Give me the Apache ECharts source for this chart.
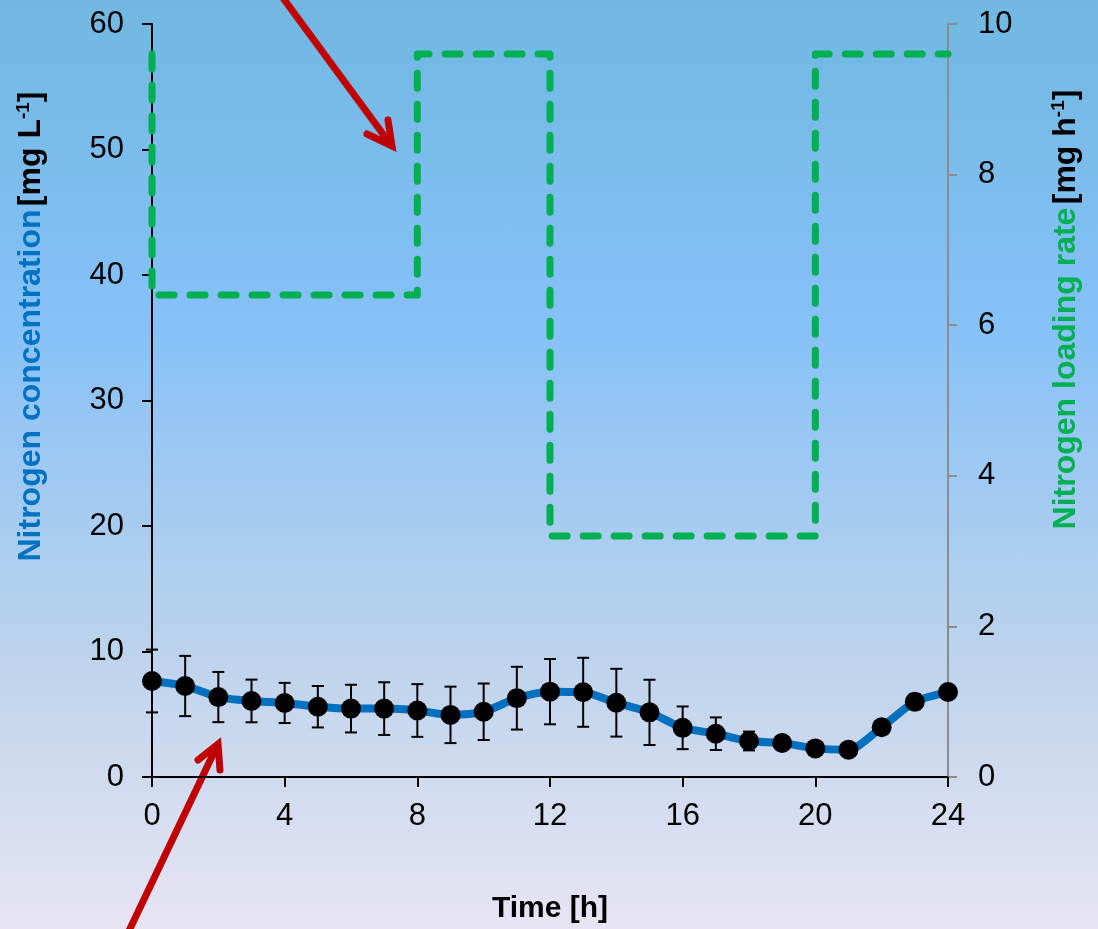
<!DOCTYPE html>
<html>
<head>
<meta charset="utf-8">
<script src="https://cdn.jsdelivr.net/npm/echarts@6/dist/echarts.min.js"></script>
<style>
  html, body { margin: 0; padding: 0; }
  #chart {
    width: 1098px;
    height: 929px;
    background: linear-gradient(to bottom, #70b8e2 0%, #86c1f8 35%, #bcd3ec 70%, #e8e4f4 100%);
  }
</style>
</head>
<body>
<div id="chart"></div>
<script>
// time in hours
const hours = [0, 1, 2, 3, 4, 5, 6, 7, 8, 9, 10, 11, 12, 13, 14, 15, 16, 17, 18, 19, 20, 21, 22, 23, 24];
// nitrogen concentration [mg/L] and its std deviation
const concentration = [7.65, 7.25, 6.37, 6.06, 5.9, 5.6, 5.45, 5.45, 5.3, 4.95, 5.2, 6.28, 6.8, 6.75, 5.92, 5.15, 3.92, 3.45, 2.87, 2.71, 2.28, 2.18, 3.96, 6.0, 6.77];
const concErr = [2.5, 2.4, 2.0, 1.7, 1.6, 1.65, 1.9, 2.1, 2.1, 2.25, 2.25, 2.5, 2.6, 2.75, 2.7, 2.6, 1.7, 1.3, 0.75, 0.5, 0.2, 0.1, 0.2, 0.6, 0.3];
// nitrogen loading rate [mg/h], stepped
const loadTimes = [0, 0, 8, 12, 20, 24];
const loadRates = [9.6, 6.4, 9.6, 3.2, 9.6, 9.6];

const xTicks = { min: 0, max: 24, interval: 4 };
const leftTicks = { min: 0, max: 60, interval: 10 };
const rightTicks = { min: 0, max: 10, interval: 2 };

const chart = echarts.init(document.getElementById('chart'));

const linePoints = hours.map((h, i) => [h, concentration[i]]);
const errPoints = hours.map((h, i) => [h, concentration[i] - concErr[i], concentration[i] + concErr[i]]);
const loadPoints = loadTimes.map((t, i) => [t, loadRates[i]]);

const font = 'Liberation Sans, Arial, sans-serif';
const titleSize = 32;
const tickSize = 31;

let options = {
  animation: false,
  textStyle: { fontFamily: font },
  grid: { left: 152, right: 150, top: 24, bottom: 152, outerBoundsMode: 'none' },
  xAxis: {
    type: 'value',
    min: xTicks.min,
    max: xTicks.max,
    interval: xTicks.interval,
    name: 'Time [h]',
    nameLocation: 'middle',
    nameGap: 117,
    nameTextStyle: { fontSize: 30, fontWeight: 'bold', color: '#000', fontFamily: font },
    axisLine: { lineStyle: { color: '#000', width: 2 } },
    axisTick: { length: 10, lineStyle: { color: '#000', width: 2 } },
    axisLabel: { fontSize: tickSize, color: '#000', margin: 24, fontFamily: font },
    splitLine: { show: false },
  },
  yAxis: [
    {
      type: 'value',
      min: leftTicks.min,
      max: leftTicks.max,
      interval: leftTicks.interval,
      position: 'left',
      name: '{b|Nitrogen concentration} {k|[mg L}{s|-1}{k|]}',
      nameLocation: 'middle',
      nameRotate: 90,
      nameGap: 104,
      nameTextStyle: {
        padding: [0, 0, 0, 148],
        rich: {
          b: { fontSize: titleSize, fontWeight: 'bold', color: '#0070c0', fontFamily: font, lineHeight: 34 },
          k: { fontSize: titleSize, fontWeight: 'bold', color: '#000', fontFamily: font, lineHeight: 34 },
          s: { fontSize: 19, fontWeight: 'bold', color: '#000', fontFamily: font, verticalAlign: 'top', lineHeight: 34 },
        },
      },
      axisLine: { show: true, lineStyle: { color: '#000', width: 2 } },
      axisTick: { show: true, length: 10, lineStyle: { color: '#000', width: 2 } },
      axisLabel: { fontSize: tickSize, color: '#000', margin: 28, fontFamily: font },
      splitLine: { show: false },
    },
    {
      type: 'value',
      min: rightTicks.min,
      max: rightTicks.max,
      interval: rightTicks.interval,
      position: 'right',
      name: '{g|Nitrogen loading rate} {k|[mg h}{s|-1}{k|]}',
      nameLocation: 'middle',
      nameRotate: 90,
      nameGap: 101,
      nameTextStyle: {
        padding: [0, 0, 0, 182],
        rich: {
          g: { fontSize: titleSize, fontWeight: 'bold', color: '#00b050', fontFamily: font, lineHeight: 34 },
          k: { fontSize: titleSize, fontWeight: 'bold', color: '#000', fontFamily: font, lineHeight: 34 },
          s: { fontSize: 19, fontWeight: 'bold', color: '#000', fontFamily: font, verticalAlign: 'top', lineHeight: 34 },
        },
      },
      axisLine: { show: true, lineStyle: { color: '#8c8c8c', width: 2 } },
      axisTick: { show: true, length: 9, lineStyle: { color: '#8c8c8c', width: 2 } },
      axisLabel: { fontSize: tickSize, color: '#000', margin: 30, fontFamily: font },
      splitLine: { show: false },
    },
  ],
  series: [
    {
      name: 'loading',
      type: 'line',
      yAxisIndex: 1,
      step: 'end',
      data: loadPoints,
      symbol: 'none',
      lineStyle: { color: '#00b050', width: 7, type: [15, 16], cap: 'round', join: 'round' },
      z: 2,
    },
    {
      name: 'err',
      type: 'custom',
      yAxisIndex: 0,
      data: errPoints,
      renderItem: function (params, api) {
        const x = api.value(0);
        const lo = api.coord([x, api.value(1)]);
        const hi = api.coord([x, api.value(2)]);
        const w = 6;
        const style = { stroke: '#000', lineWidth: 2 };
        return {
          type: 'group',
          children: [
            { type: 'line', shape: { x1: lo[0], y1: lo[1], x2: hi[0], y2: hi[1] }, style: style },
            { type: 'line', shape: { x1: lo[0] - w, y1: lo[1], x2: lo[0] + w, y2: lo[1] }, style: style },
            { type: 'line', shape: { x1: hi[0] - w, y1: hi[1], x2: hi[0] + w, y2: hi[1] }, style: style },
          ],
        };
      },
      z: 3,
    },
    {
      name: 'conc',
      type: 'line',
      yAxisIndex: 0,
      data: linePoints,
      smooth: 0.25,
      symbol: 'circle',
      symbolSize: 20,
      itemStyle: { color: '#000' },
      lineStyle: { color: '#0070c0', width: 8 },
      z: 4,
    },
  ],
  graphic: [
    // annotation arrows
    {
      type: 'group',
      children: [
        { type: 'line', shape: { x1: 283, y1: -2, x2: 391, y2: 145 }, style: { stroke: '#c00000', lineWidth: 7, lineCap: 'round' } },
        { type: 'polyline', shape: { points: [[367, 134], [392, 146], [388, 120]] }, style: { stroke: '#c00000', lineWidth: 7, lineCap: 'round', lineJoin: 'miter', fill: null } },
        { type: 'line', shape: { x1: 127, y1: 935, x2: 217, y2: 746 }, style: { stroke: '#c00000', lineWidth: 7, lineCap: 'round' } },
        { type: 'polyline', shape: { points: [[198, 760], [218, 744], [220, 770]] }, style: { stroke: '#c00000', lineWidth: 7, lineCap: 'round', lineJoin: 'miter', fill: null } },
      ],
      z: 10,
    },
  ],
};

chart.setOption(options);
</script>
</body>
</html>
